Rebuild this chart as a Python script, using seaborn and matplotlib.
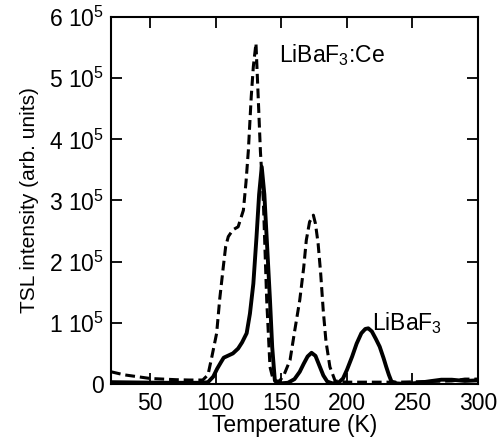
import numpy as np
import pandas as pd
import seaborn as sns
import matplotlib
matplotlib.use('Agg')
import matplotlib.pyplot as plt
from matplotlib.ticker import FuncFormatter, MultipleLocator

# TSL glow curves (temperature in K, intensity in arb. units)
temp_pure = [20, 40, 60, 80, 90, 94, 98, 101, 104, 106, 109, 113, 117, 120, 123.5, 126,
             128.6, 131, 133, 135, 137, 139, 141.3, 143, 145, 149, 155, 160, 164, 167,
             170, 173, 176, 179, 182, 185, 189, 194, 197, 200, 204, 207.4, 211, 214,
             216.3, 219, 222, 225, 228, 230, 232, 234, 238, 245, 255, 265, 272, 280,
             290, 300]
tsl_pure = [3000, 2500, 2000, 2000, 2000, 3000, 12000, 25000, 36000, 43000, 46000, 50000,
            58000, 68000, 83000, 115000, 164000, 240000, 310000, 355000, 310000, 230000,
            137000, 60000, 6000, 1000, 2000, 8000, 20000, 33000, 45000, 51000, 46000,
            30000, 14000, 4000, 1000, 3000, 9000, 23000, 45000, 66000, 83000, 90000,
            91000, 86000, 74000, 61000, 42000, 28000, 15000, 4000, 1000, 0, 2000, 5000,
            7000, 7000, 5000, 6000]

temp_ce = [20, 30, 40, 50, 60, 70, 80, 90, 94, 97, 100.6, 103, 105.7, 107.5, 109.5, 113,
           117, 121, 123, 124.8, 127, 128.6, 130.6, 132.4, 134, 136.2, 138.8, 141.3,
           143.8, 146, 149, 152, 156.6, 160, 164, 167, 169, 171.5, 174.4, 176, 178,
           180, 181.9, 184, 187, 191, 200, 220, 240, 260, 280, 290, 300]
tsl_ce = [20000, 15000, 12000, 9000, 8000, 7000, 6500, 6500, 15000, 45000, 83000, 140000,
          192000, 225000, 241000, 252000, 257000, 284000, 330000, 382000, 470000,
          519000, 557000, 464000, 380000, 301000, 137000, 28000, 6500, 3000, 6000,
          15000, 39000, 85000, 137000, 190000, 235000, 265000, 276000, 262000, 230000,
          180000, 121000, 70000, 28000, 5000, 3000, 3000, 3000, 4000, 5000, 8000, 8000]

df_pure = pd.DataFrame({'T': temp_pure, 'I': tsl_pure})
df_ce = pd.DataFrame({'T': temp_ce, 'I': tsl_ce})

sns.set_style('ticks')
plt.rcParams['font.family'] = ['Liberation Sans', 'DejaVu Sans']
plt.rcParams['mathtext.default'] = 'regular'
plt.rcParams['font.size'] = 16.5
plt.rcParams['text.color'] = 'black'
plt.rcParams['axes.labelcolor'] = 'black'

fig = plt.figure(figsize=(5.04, 4.47), dpi=100)
ax = fig.add_axes([111 / 504, 1 - 384 / 447, 367 / 504, 367 / 447])

sns.lineplot(data=df_ce, x='T', y='I', ax=ax, color='black', lw=2.2,
             linestyle=(0, (3.2, 1.6)), sort=False)
sns.lineplot(data=df_pure, x='T', y='I', ax=ax, color='black', lw=2.8, sort=False)

ax.set_xlim(20, 300)
ax.set_ylim(0, 6e5)
ax.xaxis.set_major_locator(MultipleLocator(50))
ax.yaxis.set_major_locator(MultipleLocator(1e5))
ax.yaxis.set_major_formatter(FuncFormatter(
    lambda v, p: '0' if v == 0 else '%d 10$^5$' % round(v / 1e5)))
ax.tick_params(direction='in', length=8, width=1.3, top=True, right=True,
               labelsize=16.5, colors='black', pad=5)
ax.tick_params(axis='x', pad=6)
for s in ax.spines.values():
    s.set_linewidth(1.5)
    s.set_color('black')

ax.set_xlabel('Temperature (K)', fontsize=16.5, labelpad=-1)
ax.set_ylabel('TSL intensity (arb. units)', fontsize=15,
              family=['Liberation Sans Narrow', 'Liberation Sans', 'DejaVu Sans'],
              labelpad=7)

ax.text(148, 5.26e5, 'LiBaF$_3$:Ce', fontsize=16.5, va='baseline', ha='left')
ax.text(219, 0.88e5, 'LiBaF$_3$', fontsize=16.5, va='baseline', ha='left')

plt.savefig('out.png', dpi=100)
